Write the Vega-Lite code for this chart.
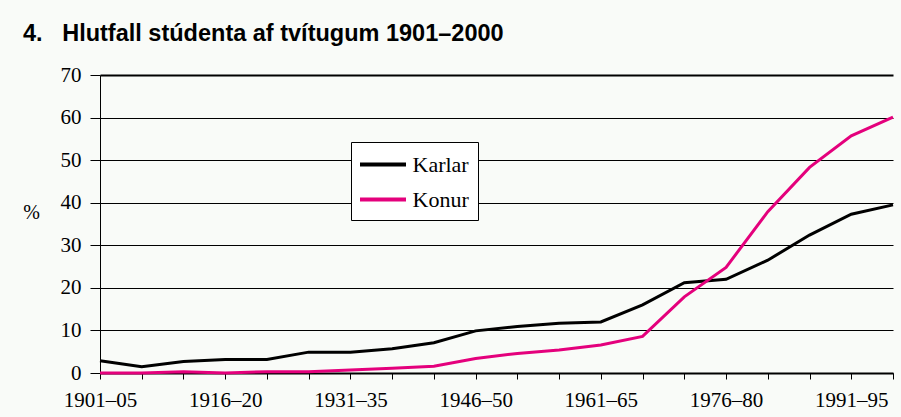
{
  "$schema": "https://vega.github.io/schema/vega-lite/v6.json",
  "width": 793,
  "height": 298,
  "autosize": {"type": "none"},
  "padding": {"left": 100, "top": 75, "right": 8, "bottom": 44},
  "background": "#f9fbf8",
  "title": {
    "text": "4.\u00a0\u00a0\u00a0Hlutfall stúdenta af tvítugum 1901–2000",
    "anchor": "start",
    "frame": "group",
    "dx": -77,
    "offset": 19,
    "font": "Liberation Sans",
    "fontSize": 23.5,
    "fontWeight": "bold",
    "color": "#000000"
  },
  "data": {
    "values": [
      {"period": "1901–05", "sex": "Karlar", "value": 2.9},
      {"period": "1906–10", "sex": "Karlar", "value": 1.5},
      {"period": "1911–15", "sex": "Karlar", "value": 2.7},
      {"period": "1916–20", "sex": "Karlar", "value": 3.2},
      {"period": "1921–25", "sex": "Karlar", "value": 3.2},
      {"period": "1926–30", "sex": "Karlar", "value": 4.9},
      {"period": "1931–35", "sex": "Karlar", "value": 4.9},
      {"period": "1936–40", "sex": "Karlar", "value": 5.7},
      {"period": "1941–45", "sex": "Karlar", "value": 7.1},
      {"period": "1946–50", "sex": "Karlar", "value": 9.9},
      {"period": "1951–55", "sex": "Karlar", "value": 10.9},
      {"period": "1956–60", "sex": "Karlar", "value": 11.7},
      {"period": "1961–65", "sex": "Karlar", "value": 12.0},
      {"period": "1966–70", "sex": "Karlar", "value": 16.0},
      {"period": "1971–75", "sex": "Karlar", "value": 21.2},
      {"period": "1976–80", "sex": "Karlar", "value": 22.0},
      {"period": "1981–85", "sex": "Karlar", "value": 26.5},
      {"period": "1986–90", "sex": "Karlar", "value": 32.4},
      {"period": "1991–95", "sex": "Karlar", "value": 37.3},
      {"period": "1996–2000", "sex": "Karlar", "value": 39.5},
      {"period": "1901–05", "sex": "Konur", "value": 0.0},
      {"period": "1906–10", "sex": "Konur", "value": 0.0},
      {"period": "1911–15", "sex": "Konur", "value": 0.3},
      {"period": "1916–20", "sex": "Konur", "value": 0.0},
      {"period": "1921–25", "sex": "Konur", "value": 0.3},
      {"period": "1926–30", "sex": "Konur", "value": 0.3},
      {"period": "1931–35", "sex": "Konur", "value": 0.7},
      {"period": "1936–40", "sex": "Konur", "value": 1.1},
      {"period": "1941–45", "sex": "Konur", "value": 1.6},
      {"period": "1946–50", "sex": "Konur", "value": 3.4},
      {"period": "1951–55", "sex": "Konur", "value": 4.6},
      {"period": "1956–60", "sex": "Konur", "value": 5.4},
      {"period": "1961–65", "sex": "Konur", "value": 6.6},
      {"period": "1966–70", "sex": "Konur", "value": 8.6},
      {"period": "1971–75", "sex": "Konur", "value": 17.9},
      {"period": "1976–80", "sex": "Konur", "value": 24.8},
      {"period": "1981–85", "sex": "Konur", "value": 37.9},
      {"period": "1986–90", "sex": "Konur", "value": 48.3},
      {"period": "1991–95", "sex": "Konur", "value": 55.7},
      {"period": "1996–2000", "sex": "Konur", "value": 60.1}
    ]
  },
  "mark": {"type": "line", "strokeWidth": 3, "strokeJoin": "miter"},
  "encoding": {
    "x": {
      "field": "period",
      "type": "ordinal",
      "sort": null,
      "scale": {"type": "point", "padding": 0},
      "axis": {
        "title": null,
        "labelAngle": 0,
        "labelFont": "Liberation Serif",
        "labelFontSize": 21,
        "labelColor": "#000000",
        "labelPadding": 10,
        "labelExpr": "indexof(['1901–05','1916–20','1931–35','1946–50','1961–65','1976–80','1991–95'], datum.value) >= 0 ? datum.label : ''",
        "tickColor": "#000000",
        "tickSize": 6,
        "domainColor": "#000000",
        "domainWidth": 2,
        "grid": false
      }
    },
    "y": {
      "field": "value",
      "type": "quantitative",
      "scale": {"domain": [0, 70], "nice": false},
      "axis": {
        "values": [0, 10, 20, 30, 40, 50, 60, 70],
        "title": "%",
        "titleAngle": 0,
        "titleX": -69,
        "titleY": 137,
        "titleAlign": "center",
        "titleBaseline": "middle",
        "titleFont": "Liberation Serif",
        "titleFontSize": 20,
        "titleFontWeight": "normal",
        "titleColor": "#000000",
        "labelFont": "Liberation Serif",
        "labelFontSize": 21,
        "labelColor": "#000000",
        "labelPadding": 9,
        "tickColor": "#000000",
        "tickSize": 10,
        "domainColor": "#000000",
        "domainWidth": 1,
        "grid": true,
        "gridColor": "#000000",
        "gridOpacity": 1,
        "gridWidth": {"condition": {"test": "datum.value == 70", "value": 2}, "value": 1}
      }
    },
    "color": {
      "field": "sex",
      "type": "nominal",
      "scale": {"domain": ["Karlar", "Konur"], "range": ["#000000", "#e4007c"]},
      "legend": {
        "title": null,
        "orient": "none",
        "legendX": 251,
        "legendY": 67,
        "fillColor": "#ffffff",
        "strokeColor": "#000000",
        "padding": 9,
        "symbolType": "M-2,0H2",
        "symbolSize": 529,
        "symbolOffset": 9.5,
        "symbolStrokeWidth": 4,
        "symbolFillColor": "transparent",
        "labelFont": "Liberation Serif",
        "labelFontSize": 22,
        "labelColor": "#000000",
        "labelOffset": 16,
        "rowPadding": 10
      }
    }
  },
  "config": {
    "view": {"stroke": null}
  }
}
